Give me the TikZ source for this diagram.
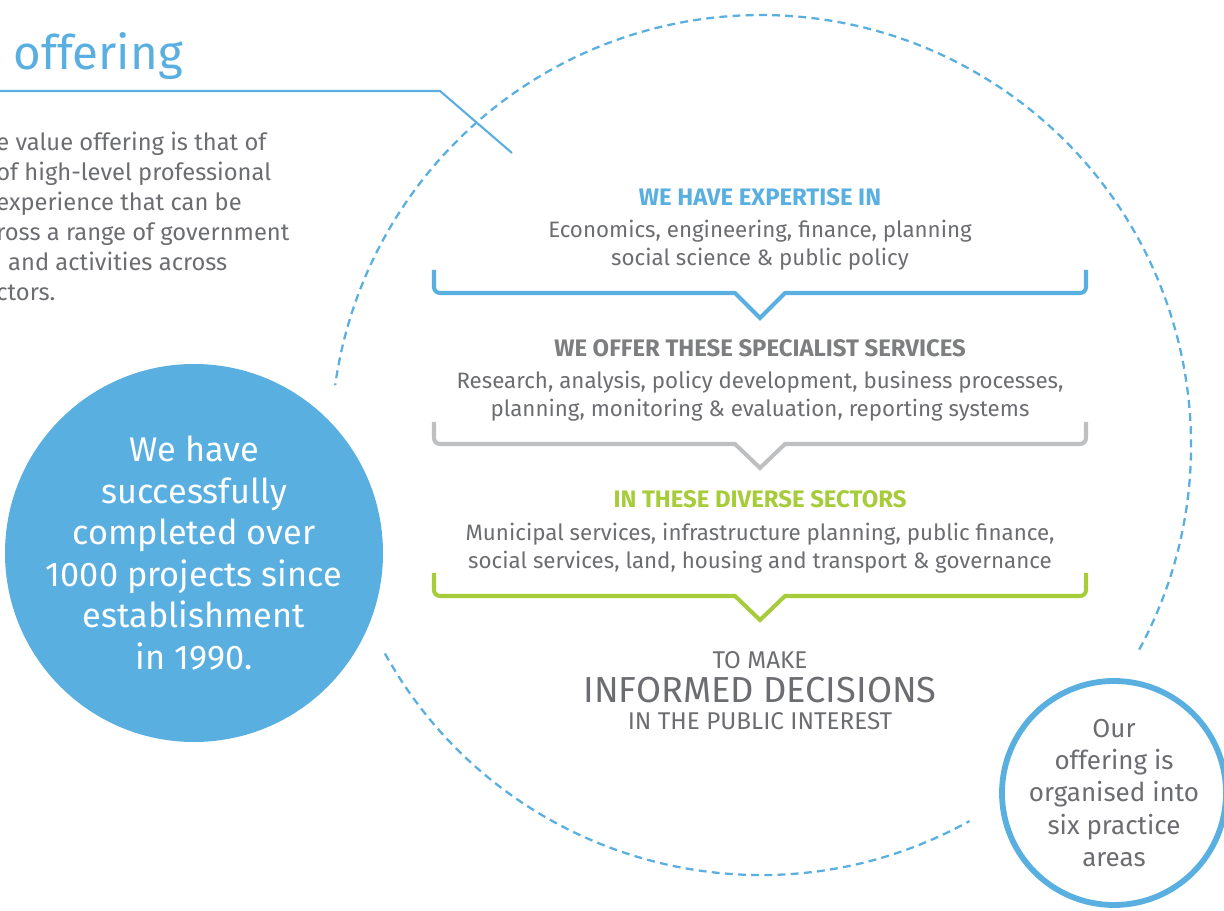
\documentclass[tikz,border=0pt]{standalone}
\usepackage{fontspec}
\setmainfont{Fira Sans}
\usetikzlibrary{positioning}
\definecolor{skyblue}{RGB}{90,175,225}
\definecolor{textgrey}{RGB}{108,109,112}
\definecolor{headgrey}{RGB}{125,126,128}
\definecolor{lightgrey}{RGB}{190,191,193}
\definecolor{limegreen}{RGB}{166,204,58}
\tikzset{
  heading/.style={font=\bfseries\fontsize{13.6}{15}\selectfont},
  bodytext/.style={text=textgrey, align=center, font=\fontsize{12.7}{15.9}\selectfont},
  bracket/.style={line width=2.3pt},
  ends/.style={bracket, rounded corners=3.4pt},
}

\begin{document}
\begin{tikzpicture}[x=0.02cm,y=0.02cm]
\useasboundingbox (0,0) rectangle (1224,910);
\clip (0,0) rectangle (1224,910);
% title and intro
\node [anchor=base east, text=skyblue, font=\fontsize{27}{30}\selectfont] (title) at (189,840) {e offering};
\draw [skyblue, line width=1.2pt] (0,819) -- (440,819) -- (512,757);
\node [anchor=north west, text=textgrey, align=left, inner sep=0pt, font=\fontsize{13.5}{17}\selectfont] (intro) at (-4,778)
  {e value offering is that of\\ of high-level professional\\ experience that can be\\ ross a range of government\\ \hspace*{0.5em}and activities across\\ ctors.};
% dashed ring
\draw [skyblue, line width=1.3pt, dash pattern=on 4.5pt off 3pt] (761,465) ++(209:430) arc (209:299:430);
\draw [skyblue, line width=1.3pt, dash pattern=on 4.5pt off 3pt] (761,465) ++(-28.4:430) arc (-28.4:172:430);
% circles
\node [circle, fill=skyblue, inner sep=0pt, minimum size=378*0.02cm] (projects) at (194,357) {};
\node [text=white, align=center, font=\fontsize{19.5}{23.6}\selectfont] (projectstext) at (projects.center)
  {We have\\ successfully\\ completed over\\ 1000 projects since\\ establishment\\ in 1990.};
\node [circle, draw=skyblue, line width=3.3pt, inner sep=0pt, minimum size=224*0.02cm] (areas) at (1114,117) {};
\node [text=textgrey, align=center, font=\fontsize{14.8}{18.4}\selectfont] (areastext) at (areas.center)
  {Our\\ offering is\\ organised into\\ six practice\\ areas};
% steps
\node [heading, text=skyblue] (expertise) at (760,713) {WE HAVE EXPERTISE IN};
\node [bodytext] (expertisetext) at (760,665) {Economics, engineering, finance, planning\\ social science \& public policy};
\draw [ends, skyblue] (434,640) |- (700,617);
\draw [bracket, skyblue] (700,617) -- (735,617) -- (760,592) -- (785,617) -- (820,617);
\draw [ends, skyblue] (820,617) -| (1086,640);
\node [heading, text=headgrey] (services) at (760,562) {WE OFFER THESE SPECIALIST SERVICES};
\node [bodytext] (servicestext) at (760,513.5) {Research, analysis, policy development, business processes,\\ planning, monitoring \& evaluation, reporting systems};
\draw [ends, lightgrey] (434,488) |- (700,466);
\draw [bracket, lightgrey] (700,466) -- (735,466) -- (760,442) -- (785,466) -- (820,466);
\draw [ends, lightgrey] (820,466) -| (1086,488);
\node [heading, text=limegreen] (sectors) at (760,411) {IN THESE DIVERSE SECTORS};
\node [bodytext] (sectorstext) at (760,362) {Municipal services, infrastructure planning, public finance,\\ social services, land, housing and transport \& governance};
\draw [ends, limegreen] (434,337) |- (700,314);
\draw [bracket, limegreen] (700,314) -- (735,314) -- (760,290) -- (785,314) -- (820,314);
\draw [ends, limegreen] (820,314) -| (1086,337);
% outcome
\node [text=textgrey, font=\fontsize{13.8}{15}\selectfont] (tomake) at (760,250) {TO MAKE};
\node [text=textgrey, font=\fontsize{20.6}{23}\selectfont] (decisions) at (760,220) {INFORMED DECISIONS};
\node [text=textgrey, font=\fontsize{13.8}{15}\selectfont] (interest) at (760,189) {IN THE PUBLIC INTEREST};
\end{tikzpicture}
\end{document}
